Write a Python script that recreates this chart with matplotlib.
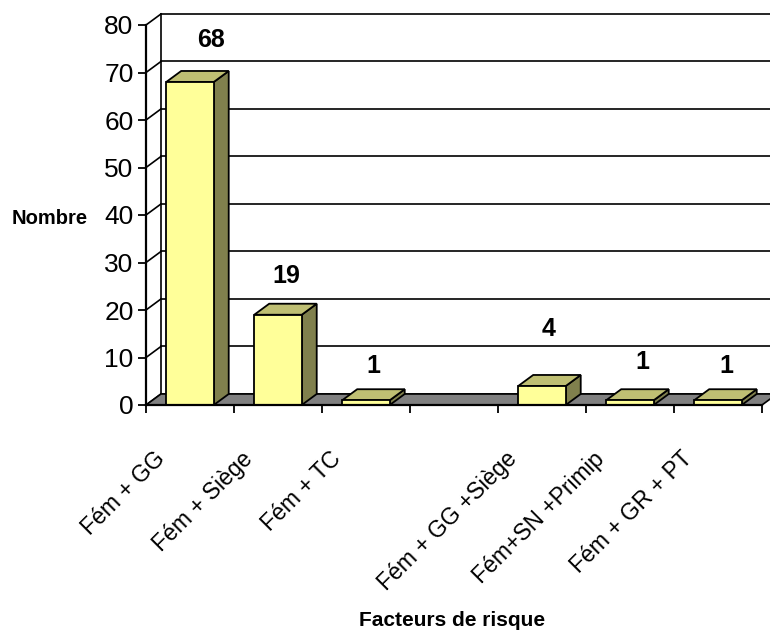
import numpy as np
import matplotlib.pyplot as plt
from matplotlib.patches import Polygon

plt.rcParams['font.family'] = ['Liberation Sans', 'DejaVu Sans']

# data
categories = ['Fém + GG', 'Fém + Siège', 'Fém + TC', '',
              'Fém + GG +Siège', 'Fém+SN +Primip', 'Fém + GR + PT']
counts = [68, 19, 1, np.nan, 4, 1, 1]
yticks = [0, 10, 20, 30, 40, 50, 60, 70, 80]

# value label nudges (x in categories, y in counts)
label_nudge = [(0.24, 8.8), (0.10, 8.2), (0.08, 7.2), (0, 0),
               (0.08, 12.0), (0.14, 8.0), (0.10, 7.2)]

front_col = '#FFFF99'
top_col = '#BFBF73'
side_col = '#80804D'
floor_col = '#808080'

n = len(categories)
dx, dy = 0.17, 2.32   # 3D depth offset
bar_w = 0.54

fig = plt.figure(figsize=(7.7, 6.35), dpi=100)
ax = fig.add_axes([146 / 770, 1 - 405 / 635, 616 / 770, 380 / 635])
ax.set_xlim(0, n)
ax.set_ylim(0, 80)
ax.patch.set_visible(False)

# back wall gridlines + side wall diagonals
for v in yticks:
    ax.plot([0, dx], [v, v + dy], color='black', lw=1.2, clip_on=False, zorder=1)
    ax.plot([dx, n + dx], [v + dy, v + dy], color='black', lw=1.2,
            clip_on=False, zorder=1)
ax.plot([dx, dx], [dy, 80 + dy], color='black', lw=1.2, clip_on=False, zorder=1)

# floor
floor = Polygon([(0, 0), (n, 0), (n + dx, dy), (dx, dy)], closed=True,
                facecolor=floor_col, edgecolor='black', lw=1.2,
                clip_on=False, zorder=2)
ax.add_patch(floor)

# bars
for i, v in enumerate(counts):
    if np.isnan(v):
        continue
    x0 = i + 0.5 - bar_w / 2
    x1 = x0 + bar_w
    kw = dict(closed=True, edgecolor='black', lw=1.3, clip_on=False, zorder=3)
    ax.add_patch(Polygon([(x1, 0), (x1 + dx, dy), (x1 + dx, v + dy), (x1, v)],
                         facecolor=side_col, **kw))
    ax.add_patch(Polygon([(x0, v), (x1, v), (x1 + dx, v + dy), (x0 + dx, v + dy)],
                         facecolor=top_col, **kw))
    ax.add_patch(Polygon([(x0, 0), (x1, 0), (x1, v), (x0, v)],
                         facecolor=front_col, **kw))
    nx, ny = label_nudge[i]
    ax.text(i + 0.5 + nx, v + ny, f'{v:.0f}', ha='center', va='center',
            fontsize=18, fontweight='bold', clip_on=False)

# axes
for s in ['top', 'right']:
    ax.spines[s].set_visible(False)
for s in ['left', 'bottom']:
    ax.spines[s].set_linewidth(1.6)
    ax.spines[s].set_zorder(5)
ax.set_yticks(yticks)
ax.tick_params(axis='y', direction='out', length=6, width=1.3, pad=3,
               labelsize=19)
ax.set_xticks(np.arange(n + 1))
ax.set_xticklabels([])
ax.tick_params(axis='x', direction='out', length=6, width=1.3)

# rotated category labels
for i, lab in enumerate(categories):
    ax.text(i + 0.5 - 0.42, -8.9, lab, rotation=45, rotation_mode='anchor',
            ha='right', va='top', fontsize=16.5, clip_on=False)

fig.text(50 / 770, 1 - 218 / 635, 'Nombre', ha='center', va='center',
         fontsize=14.5, fontweight='bold')
fig.text(452 / 770, 1 - 620 / 635, 'Facteurs de risque', ha='center',
         va='center', fontsize=15, fontweight='bold')

fig.savefig('out.png', dpi=100)
